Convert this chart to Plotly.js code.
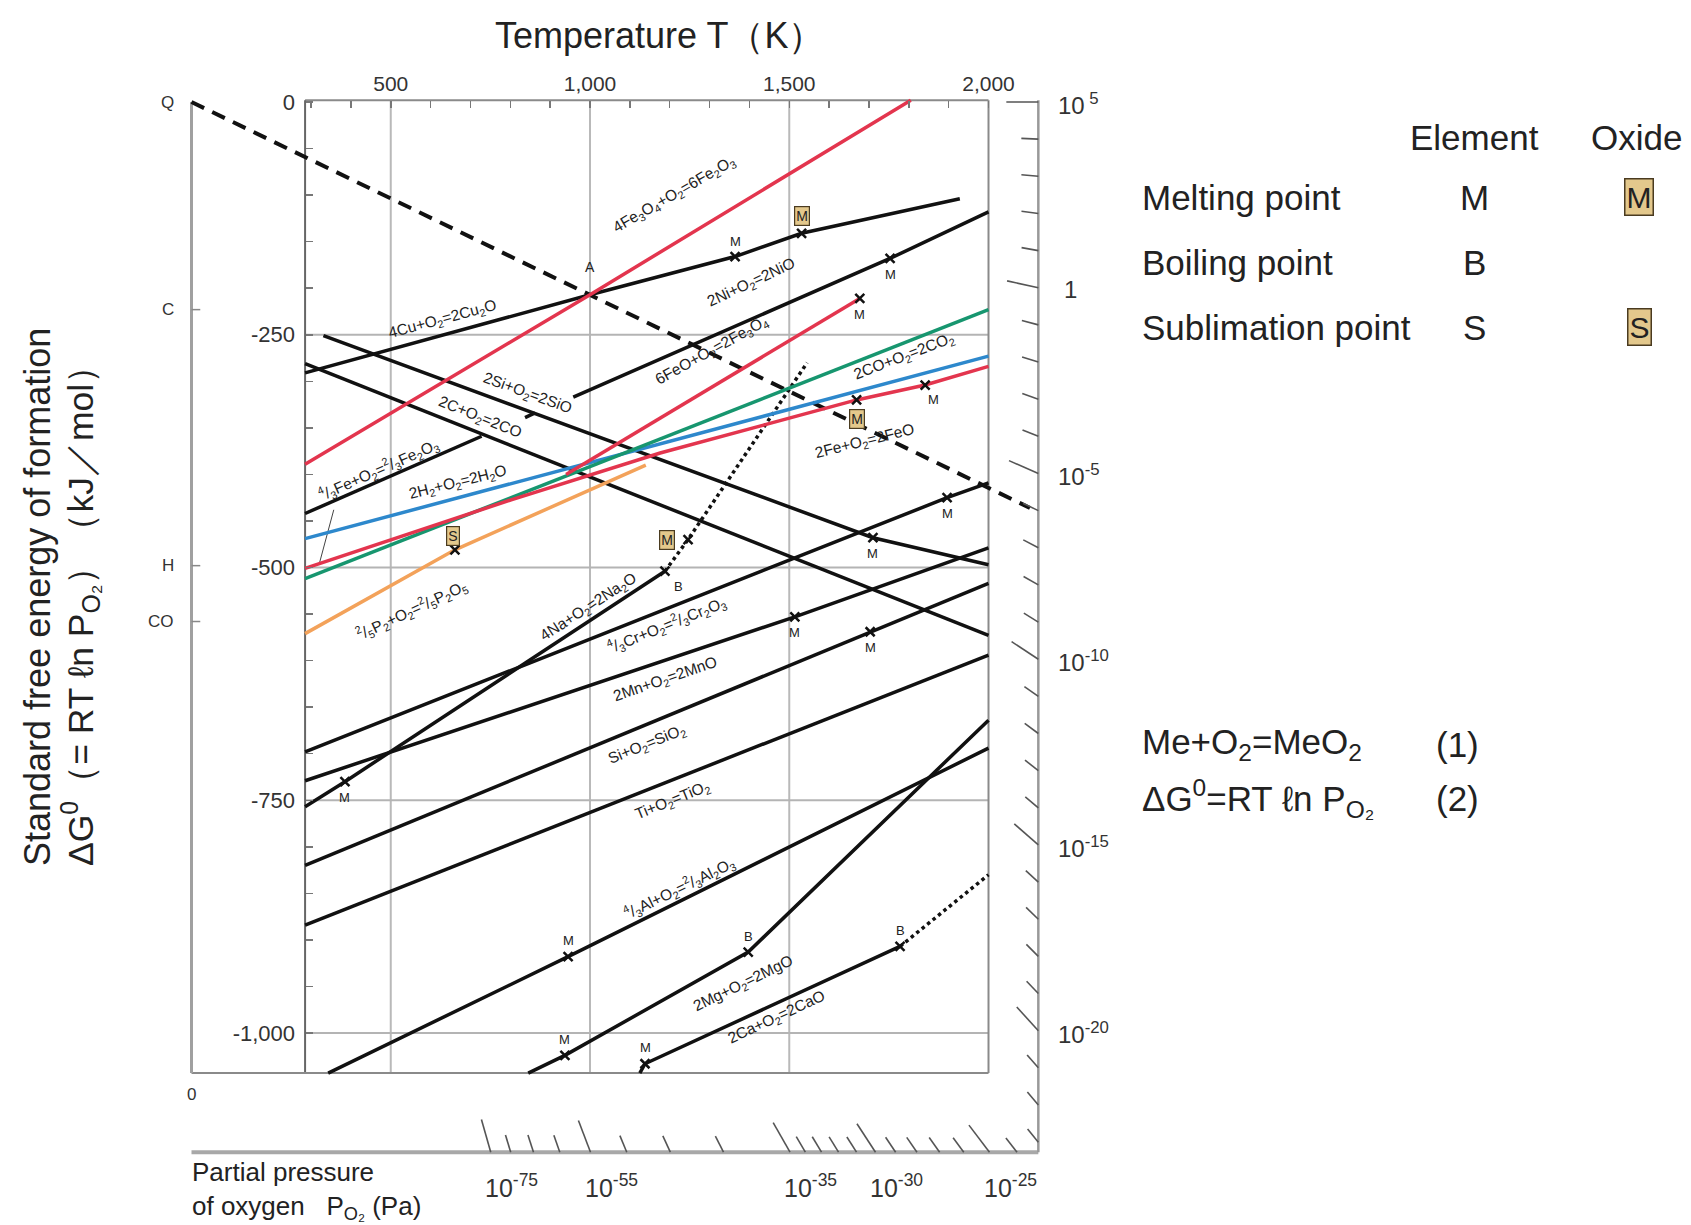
<!DOCTYPE html>
<html>
<head>
<meta charset="utf-8">
<script src="https://cdn.plot.ly/plotly-3.0.1.min.js"></script>
<style>
html,body{margin:0;padding:0;background:#fff;}
#chart{width:1691px;height:1225px;}
</style>
</head>
<body>
<div id="chart"></div>
<script>
// ===================== DATA =====================
// Temperature T (K), standard free energy ΔG° (kJ/mol)

// top temperature axis
const tempTickVals = [500, 1000, 1500, 2000];
const tempTickText = ['500', '1,000', '1,500', '2,000'];
const tempMinorVals = [300,400,600,700,800,900,1100,1200,1300,1400,1600,1700,1800,1900];
// left ΔG axis
const gTickVals = [0, -250, -500, -750, -1000];
const gTickText = ['0', '-250', '-500', '-750', '-1,000'];
const gMinorVals = [-50,-100,-150,-200,-300,-350,-400,-450,-550,-600,-650,-700,-800,-850,-900,-950];
const gridTemps = [500, 1000, 1500];
const gridG = [-250, -500, -750, -1000];

// reaction lines
const fe2o3T = [285, 1000, 1805];              const fe2o3G = [-389, -207, 2];
const cu2oT  = [285, 1000, 1364, 1531, 1928];  const cu2oG  = [-291, -207, -166, -141, -104];
const nioT   = [285, 728, null, 837, 862, null, 958, 1753, 2000];
const nioG   = [-442, -359, null, -339, -334, null, -317, -168, -118];
const sioT   = [331, 1710, 2000];              const sioG   = [-251, -468, -497];
const coT    = [285, 2000];                    const coG    = [-281, -573];
const fe3o4T = [940, 1677];                    const fe3o4G = [-400, -211];
const co2T   = [285, 2000];                    const co2G   = [-512, -223];
const h2oT   = [285, 2000];                    const h2oG   = [-469, -273];
const feoT   = [285, 804, 1176, 1669, 1841, 2000]; const feoG = [-501, -427, -377, -320, -304, -284];
const p2o5T  = [285, 661, 1140];               const p2o5G  = [-571, -481, -390];
const na2oT  = [285, 385, 1188];               const na2oG  = [-757, -730, -504];
const na2oGasT = [1188, 1246, 1545];           const na2oGasG = [-504, -470, -280];
const cr2o3T = [285, 1896, 2000];              const cr2o3G = [-698, -425, -409];
const mnoT   = [285, 1514, 2000];              const mnoG   = [-729, -553, -479];
const sio2T  = [285, 1703, 2000];              const sio2G  = [-820, -569, -517];
const tio2T  = [285, 2000];                    const tio2G  = [-884, -594];
const al2o3T = [343, 945, 2000];               const al2o3G = [-1043, -918, -694];
const mgoT   = [845, 937, 1397, 2000];         const mgoG   = [-1043, -1024, -913, -664];
const caoT   = [1125, 1138, 1778];             const caoG   = [-1043, -1033, -907];
const caoGasT = [1778, 2000];                  const caoGasG = [-907, -830];
// dashed line from Q through A to the pressure scale
const qLineT = [0, 2104];                      const qLineG = [0, -436];

// phase-change points of the elements
const elemPtT = [1364, 1753, 1677, 1841, 1896, 1710, 1514, 1703, 385, 1188, 945, 937, 1397, 1138, 1778];
const elemPtG = [-166, -168, -211, -304, -425, -468, -553, -569, -730, -504, -918, -1024, -913, -1033, -907];
const elemPtLetter = ['M','M','M','M','M','M','M','M','M','B','M','M','B','M','B'];
// phase-change points of the oxides
const oxPtT = [1531, 1669, 1246, 661];
const oxPtG = [-141, -320, -470, -481];
const oxPtLetter = ['M','M','M','S'];

// points on the T = 0 K line
const refPtName = ['Q','C','H','CO'];
const refPtG = [0, -223, -498, -558];

// oxygen partial pressure scales (exponents of 10, Pa)
const rightScaleExp = [5,4,3,2,1,0,-1,-2,-3,-4,-5,-6,-7,-8,-9,-10,-11,-12,-13,-14,-15,-16,-17,-18,-19,-20,-21,-22,-23];
const rightLabelExp = [5,0,-5,-10,-15,-20];
const bottomScaleExp = [-75,-70,-65,-60,-55,-50,-45,-40,-35,-34,-33,-32,-31,-30,-29,-28,-27,-26,-25,-24];
const bottomLabelExp = [-75,-55,-35,-30,-25];
const kJperDecade = 39.9;      // spacing of one decade on the right scale
const scaleT = 2125;           // temperature of the right pressure scale line
const scaleG = -1128;          // ΔG of the bottom pressure scale line

// ===================== LAYOUT GEOMETRY =====================
const W = 1691, H = 1225;
const xRange = [-480.55, 3762.8];
const yRange = [-1206.2, 109.56];
const boxT = [285, 2000], boxG = [-1043, 2];
const pxPerK = W / (xRange[1] - xRange[0]);
const pxPerKJ = H / (yRange[1] - yRange[0]);
const px = x => x / W, py = y => 1 - y / H;

const FONT = 'Liberation Sans, Arial, Helvetica, sans-serif';
const NARROW = 'Liberation Sans Narrow, Arial Narrow, Liberation Sans, Arial, sans-serif';
const RED = '#e3354e', GREEN = '#17966f', BLUE = '#2d88cc', ORANGE = '#f3a25a', BLACK = '#111';

// ===================== TRACES =====================
const traces = [];
function addLine(T, G, color, width, dash) {
  traces.push({type:'scatter', mode:'lines', x:T, y:G, connectgaps:false, hoverinfo:'skip',
               line:{color:color, width:width, dash:dash || 'solid'}});
}
addLine(qLineT, qLineG, BLACK, 4, '14px,9px');
addLine(cu2oT, cu2oG, BLACK, 3.5);
addLine(nioT, nioG, BLACK, 3.5);
addLine(sioT, sioG, BLACK, 3.5);
addLine(coT, coG, BLACK, 3.5);
addLine(na2oT, na2oG, BLACK, 3.5);
addLine(na2oGasT, na2oGasG, BLACK, 3.5, 'dot');
addLine(cr2o3T, cr2o3G, BLACK, 3.5);
addLine(mnoT, mnoG, BLACK, 3.5);
addLine(sio2T, sio2G, BLACK, 3.5);
addLine(tio2T, tio2G, BLACK, 3.5);
addLine(al2o3T, al2o3G, BLACK, 3.5);
addLine(mgoT, mgoG, BLACK, 3.5);
addLine(caoT, caoG, BLACK, 3.5);
addLine(caoGasT, caoGasG, BLACK, 3.5, 'dot');
addLine(p2o5T, p2o5G, ORANGE, 3.5);
addLine(h2oT, h2oG, BLUE, 3.5);
addLine(co2T, co2G, GREEN, 3.5);
addLine(feoT, feoG, RED, 3.5);
addLine(fe3o4T, fe3o4G, RED, 3.5);
addLine(fe2o3T, fe2o3G, RED, 3.5);

// radial tick marks of the pressure scales (toward Q)
function radialTick(T0, G0, lenPx) {
  const vx = (0 - T0) * pxPerK, vy = (0 - G0) * pxPerKJ;
  const f = lenPx / Math.hypot(vx, vy);
  return [[T0, T0 + (0 - T0) * f], [G0, G0 + (0 - G0) * f]];
}
const tkX = [], tkY = [];
rightScaleExp.forEach(e => {
  const k = 5 - e, G0 = -kJperDecade * k;
  const r = radialTick(scaleT, G0, rightLabelExp.includes(e) ? 32 : 17);
  tkX.push(r[0][0], r[0][1], null); tkY.push(r[1][0], r[1][1], null);
});
bottomScaleExp.forEach(e => {
  const k = 5 - e, T0 = scaleT * scaleG / (-kJperDecade * k);
  const r = radialTick(T0, scaleG, bottomLabelExp.includes(e) ? 34 : 18);
  tkX.push(r[0][0], r[0][1], null); tkY.push(r[1][0], r[1][1], null);
});
traces.push({type:'scatter', mode:'lines', x:tkX, y:tkY, hoverinfo:'skip',
             line:{color:'#555', width:1.6}});

// x markers
traces.push({type:'scatter', mode:'markers', x:elemPtT.concat(oxPtT), y:elemPtG.concat(oxPtG),
             hoverinfo:'skip', marker:{symbol:'x-thin', size:9, color:BLACK, line:{width:2.5, color:BLACK}}});

// ===================== SHAPES =====================
const shapes = [];
function seg(x0, y0, x1, y1, color, width) {
  shapes.push({type:'line', xref:'x', yref:'y', x0:x0, y0:y0, x1:x1, y1:y1, layer:'below',
               line:{color:color, width:width}});
}
gridTemps.forEach(t => seg(t, boxG[0], t, boxG[1], '#b9b9b9', 2));
gridG.forEach(g => seg(boxT[0], g, boxT[1], g, '#b4b4b4', 2));
seg(boxT[0], boxG[1], boxT[1], boxG[1], '#8a8a8a', 2);    // top
seg(boxT[1], boxG[0], boxT[1], boxG[1], '#8a8a8a', 2);    // right
seg(boxT[0], boxG[0], boxT[0], boxG[1], '#666', 2);       // left axis
seg(0, boxG[0], boxT[1], boxG[0], '#8a8a8a', 2);          // bottom (to T=0)
seg(0, 0, 0, boxG[0], '#a0a0a0', 3);                      // T = 0 K line
seg(0, scaleG, scaleT, scaleG, '#a8a8a8', 4);             // bottom pressure scale
seg(scaleT, boxG[1], scaleT, scaleG, '#999', 2.5);        // right pressure scale
refPtG.slice(1).forEach(g => seg(0, g, 22, g, '#888', 1.5));
seg(357, -438, 320, -497, '#444', 1);                     // leader of the Fe2O3 label

// ===================== ANNOTATIONS =====================
const ann = [];
function txt(o) { ann.push(Object.assign({showarrow:false, xref:'x', yref:'y', xanchor:'center', yanchor:'middle'}, o)); }
function ptxt(o) { ann.push(Object.assign({showarrow:false, xref:'paper', yref:'paper', xanchor:'center', yanchor:'middle'}, o)); }

const lineLabels = [
  {text:'4Cu+O<sub>2</sub>=2Cu<sub>2</sub>O', T:629, G:-234, a:-15},
  {text:'4Fe<sub>3</sub>O<sub>4</sub>+O<sub>2</sub>=6Fe<sub>2</sub>O<sub>3</sub>', T:1211, G:-99, a:-30},
  {text:'2Ni+O<sub>2</sub>=2NiO', T:1406, G:-194, a:-25},
  {text:'6FeO+O<sub>2</sub>=2Fe<sub>3</sub>O<sub>4</sub>', T:1306, G:-267, a:-29},
  {text:'2CO+O<sub>2</sub>=2CO<sub>2</sub>', T:1788, G:-273, a:-21},
  {text:'2Fe+O<sub>2</sub>=2FeO', T:1690, G:-365, a:-14},
  {text:'2Si+O<sub>2</sub>=2SiO', T:844, G:-313, a:20},
  {text:'2C+O<sub>2</sub>=2CO', T:724, G:-339, a:22},
  {text:'<sup>4</sup>/<sub>3</sub>Fe+O<sub>2</sub>=<sup>2</sup>/<sub>3</sub>Fe<sub>2</sub>O<sub>3</sub>', T:468, G:-395, a:-24},
  {text:'2H<sub>2</sub>+O<sub>2</sub>=2H<sub>2</sub>O', T:669, G:-409, a:-14},
  {text:'<sup>2</sup>/<sub>5</sub>P<sub>2</sub>+O<sub>2</sub>=<sup>2</sup>/<sub>5</sub>P<sub>2</sub>O<sub>5</sub>', T:553, G:-546, a:-25},
  {text:'4Na+O<sub>2</sub>=2Na<sub>2</sub>O', T:995, G:-543, a:-33},
  {text:'<sup>4</sup>/<sub>3</sub>Cr+O<sub>2</sub>=<sup>2</sup>/<sub>3</sub>Cr<sub>2</sub>O<sub>3</sub>', T:1192, G:-562, a:-22},
  {text:'2Mn+O<sub>2</sub>=2MnO', T:1189, G:-620, a:-19},
  {text:'Si+O<sub>2</sub>=SiO<sub>2</sub>', T:1143, G:-690, a:-22},
  {text:'Ti+O<sub>2</sub>=TiO<sub>2</sub>', T:1208, G:-750, a:-22},
  {text:'<sup>4</sup>/<sub>3</sub>Al+O<sub>2</sub>=<sup>2</sup>/<sub>3</sub>Al<sub>2</sub>O<sub>3</sub>', T:1225, G:-844, a:-26},
  {text:'2Mg+O<sub>2</sub>=2MgO', T:1386, G:-947, a:-26},
  {text:'2Ca+O<sub>2</sub>=2CaO', T:1468, G:-983, a:-25}
];
lineLabels.forEach(l => txt({x:l.T, y:l.G, text:l.text, textangle:l.a,
  font:{family:NARROW, size:15.5, color:'#222'}}));

// element point letters: offsets (px)
const elemLetterShift = [[0,15],[0,-16],[0,-16],[8,-14],[0,-16],[0,-16],[0,-16],[0,-16],[0,-16],[14,-15],[0,16],[0,16],[0,16],[0,16],[0,16]];
elemPtT.forEach((t, i) => txt({x:t, y:elemPtG[i], text:elemPtLetter[i],
  xshift:elemLetterShift[i][0], yshift:elemLetterShift[i][1], font:{family:FONT, size:13, color:'#222'}}));
// oxide boxes
const oxBoxShift = [[0,17],[0,-19],[-21,0],[-2,14]];
oxPtT.forEach((t, i) => txt({x:t, y:oxPtG[i], text:oxPtLetter[i], xshift:oxBoxShift[i][0], yshift:oxBoxShift[i][1],
  bgcolor:'#e3c88c', bordercolor:'#4a3b20', borderwidth:1.2, borderpad:1,
  font:{family:FONT, size:14, color:'#222'}}));
txt({x:1000, y:-207, text:'A', yshift:28, font:{family:FONT, size:14, color:'#222'}});

// Q, C, H, CO at T = 0
refPtName.forEach((n, i) => txt({x:0, y:refPtG[i], text:n, xanchor:'right', xshift:-16,
  font:{family:FONT, size:17, color:'#333'}}));
txt({x:0, y:boxG[0], text:'0', yanchor:'top', yshift:-10, font:{family:FONT, size:17, color:'#333'}});

// pressure-scale labels
function pLabel(e) { return e === 0 ? '1' : '10<sup>' + (e > 0 ? ' ' : '') + e + '</sup>'; }
rightLabelExp.forEach(e => txt({x:scaleT, y:-kJperDecade * (5 - e), text:pLabel(e), xanchor:'left',
  xshift:e === 0 ? 24 : 18, yshift:-2, font:{family:FONT, size:24, color:'#333'}}));
bottomLabelExp.forEach(e => txt({x:scaleT * scaleG / (-kJperDecade * (5 - e)), y:scaleG, text:pLabel(e),
  xanchor:'left', yanchor:'top', xshift:-8, yshift:-16, font:{family:FONT, size:25, color:'#333'}}));
ptxt({x:px(190), y:py(1190), text:'Partial pressure<br>of oxygen   P<sub>O₂</sub> (Pa)', xanchor:'left', yanchor:'middle',
  align:'left', font:{family:FONT, size:26, color:'#222'}});

// titles
ptxt({x:px(659), y:py(35), text:'Temperature T（K）', font:{family:FONT, size:36, color:'#222'}});
ptxt({x:px(38), y:py(868), text:'Standard free energy of formation', textangle:-90, yanchor:'bottom',
  font:{family:FONT, size:36, color:'#222'}});
ptxt({x:px(81), y:py(868), text:'ΔG<sup>0</sup>（= RT ℓn P<sub>O₂</sub>）（kJ／mol）', textangle:-90, yanchor:'bottom',
  font:{family:FONT, size:35.5, color:'#222'}});

// legend block
const LF = {family:FONT, size:35, color:'#222'};
ptxt({x:px(1474), y:py(137), text:'Element', font:LF});
ptxt({x:px(1636), y:py(137), text:'Oxide', font:LF});
const legRows = ['Melting point','Boiling point','Sublimation point'];
const legElem = ['M','B','S'];
const legOxide = ['M','','S'];
const legY = [197, 262, 327];
legRows.forEach((r, i) => {
  ptxt({x:px(1140), y:py(legY[i]), text:r, xanchor:'left', font:LF});
  ptxt({x:px(1474), y:py(legY[i]), text:legElem[i], font:LF});
  if (legOxide[i]) ptxt({x:px(1639), y:py(legY[i]), text:legOxide[i], bgcolor:'#e3c88c', bordercolor:'#4a3b20',
    borderwidth:1.5, borderpad:1, font:{family:FONT, size:30, color:'#222'}});
});
ptxt({x:px(1140), y:py(744), text:'Me+O<sub>2</sub>=MeO<sub>2</sub>', xanchor:'left', font:LF});
ptxt({x:px(1434), y:py(744), text:'(1)', xanchor:'left', font:LF});
ptxt({x:px(1140), y:py(798), text:'ΔG<sup>0</sup>=RT ℓn P<sub>O₂</sub>', xanchor:'left', font:LF});
ptxt({x:px(1434), y:py(798), text:'(2)', xanchor:'left', font:LF});

// ===================== LAYOUT =====================
const minorStyle = {ticks:'inside', ticklen:7, tickwidth:1.5, tickcolor:'#777', showgrid:false};
const layout = {
  width:W, height:H, margin:{l:0, r:0, t:0, b:0},
  paper_bgcolor:'#fff', plot_bgcolor:'#fff', showlegend:false,
  xaxis:{range:xRange, side:'top', anchor:'free', position:(boxG[1] - yRange[0]) / (yRange[1] - yRange[0]),
         tickmode:'array', tickvals:tempTickVals, ticktext:tempTickText, ticks:'inside', ticklen:7,
         tickwidth:1.5, tickcolor:'#777', showline:false, showgrid:false, zeroline:false, ticklabelstandoff:5,
         minor:Object.assign({tickmode:'array', tickvals:tempMinorVals}, minorStyle),
         tickfont:{family:FONT, size:21, color:'#333'}},
  yaxis:{range:yRange, anchor:'free', position:(boxT[0] - xRange[0]) / (xRange[1] - xRange[0]), side:'left',
         tickmode:'array', tickvals:gTickVals, ticktext:gTickText, ticks:'inside', ticklen:7,
         tickwidth:1.5, tickcolor:'#777', showline:false, showgrid:false, zeroline:false, ticklabelstandoff:10,
         minor:Object.assign({tickmode:'array', tickvals:gMinorVals}, minorStyle),
         tickfont:{family:FONT, size:22, color:'#333'}},
  shapes:shapes, annotations:ann
};
Plotly.newPlot('chart', traces, layout, {displayModeBar:false, staticPlot:true});
</script>
</body>
</html>
